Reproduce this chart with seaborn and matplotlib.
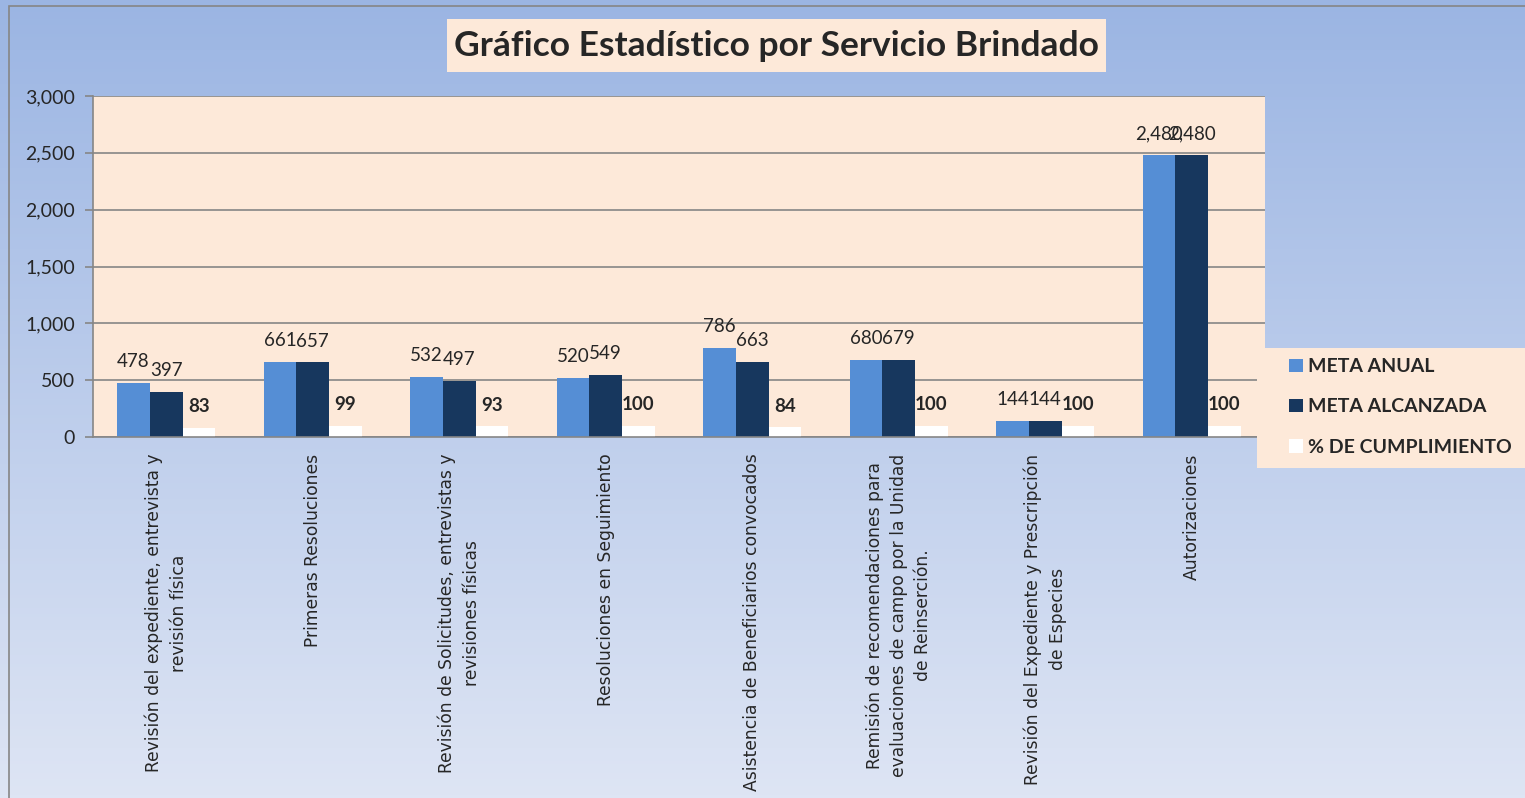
import numpy as np
import pandas as pd
import matplotlib
matplotlib.use("Agg")
import matplotlib.pyplot as plt
from matplotlib.patches import Rectangle
import seaborn as sns

CATEGORIAS = [
    "Revisión del expediente, entrevista y\nrevisión física",
    "Primeras Resoluciones",
    "Revisión de Solicitudes, entrevistas y\nrevisiones físicas",
    "Resoluciones en Seguimiento",
    "Asistencia de Beneficiarios convocados",
    "Remisión de recomendaciones para\nevaluaciones de campo por la Unidad\nde Reinserción.",
    "Revisión del Expediente y Prescripción\nde Especies",
    "Autorizaciones",
]
SERIES = ["META ANUAL", "META ALCANZADA", "% DE CUMPLIMIENTO"]
META_ANUAL = [478, 661, 532, 520, 786, 680, 144, 2480]
META_ALCANZADA = [397, 657, 497, 549, 663, 679, 144, 2480]
CUMPLIMIENTO = [83, 99, 93, 100, 84, 100, 100, 100]
Y_TICKS = [0, 500, 1000, 1500, 2000, 2500, 3000]
TITULO = "Gráfico Estadístico por Servicio Brindado"

COLORES = ["#558ED5", "#17375E", "#FFFFFF"]
PEACH = "#FDE9D9"
GRIS = "#868686"

# tabla larga para seaborn
df = pd.DataFrame({
    "categoria": CATEGORIAS * 3,
    "serie": [s for s in SERIES for _ in CATEGORIAS],
    "valor": META_ANUAL + META_ALCANZADA + CUMPLIMIENTO,
})

sns.set_style("white")
plt.rcParams["font.family"] = ["Lato", "DejaVu Sans"]

W, H = 1525, 798
fig = plt.figure(figsize=(W / 100, H / 100), dpi=100)

def caja(x0, y0, x1, y1, **kw):
    # rectangulo en pixeles de la figura (origen arriba a la izquierda)
    r = Rectangle((x0 / W, 1 - y1 / H), (x1 - x0) / W, (y1 - y0) / H,
                  transform=fig.transFigure, **kw)
    fig.patches.append(r)
    return r

# fondo degradado azul
bg = fig.add_axes([0, 0, 1, 1], zorder=-10)
top = np.array([155, 181, 227]) / 255
bot = np.array([222, 229, 244]) / 255
t = np.linspace(0, 1, 256)[:, None]
grad = (top * (1 - t) + bot * t)[:, None, :]
bg.imshow(grad, aspect="auto", extent=[0, 1, 0, 1])
bg.set_axis_off()
caja(9, 6, W + 5, H + 5, fill=False, edgecolor=GRIS, linewidth=1.2, zorder=5)
caja(447, 19, 1106, 72, facecolor=PEACH, edgecolor="none", zorder=1)
caja(1257, 348, W, 468, facecolor=PEACH, edgecolor="none", zorder=1)

ax = fig.add_axes([93 / W, 1 - 437 / H, (1265 - 93) / W, (437 - 96) / H])
ax.set_facecolor(PEACH)
sns.barplot(data=df, x="categoria", y="valor", hue="serie", palette=COLORES,
            width=0.67, saturation=1, ax=ax, edgecolor="none", legend=True)

ax.set_ylim(0, 3000)
ax.set_xlim(-0.5, len(CATEGORIAS) - 0.5)
ax.set_yticks(Y_TICKS)
ax.set_yticklabels([f"{v:,}" for v in Y_TICKS], fontsize=14)
ax.yaxis.grid(True, color=GRIS, linewidth=1.2)
ax.set_axisbelow(True)
ax.set_xlabel("")
ax.set_ylabel("")
for s in ["top", "right"]:
    ax.spines[s].set_visible(False)
for s in ["left", "bottom"]:
    ax.spines[s].set_color(GRIS)
    ax.spines[s].set_linewidth(1.2)

ax.set_xticks(np.arange(len(CATEGORIAS)))
ax.set_xticklabels(CATEGORIAS, rotation=90, fontsize=12.3, family="DejaVu Sans",
                   multialignment="center", va="top", ha="center", linespacing=1.45)
ax.set_xticks(np.arange(len(CATEGORIAS) + 1) - 0.5, minor=True)
ax.tick_params(axis="x", which="major", length=0, pad=12)
ax.tick_params(axis="x", which="minor", length=6, color=GRIS, width=1.2)
ax.tick_params(axis="y", length=6, color=GRIS, width=1.2, left=True, pad=7)

# etiquetas de valores
ax.bar_label(ax.containers[0], labels=[f"{v:,}" for v in META_ANUAL],
             fontsize=13.5, padding=9)
ax.bar_label(ax.containers[1], labels=[f"{v:,}" for v in META_ALCANZADA],
             fontsize=13.5, padding=9)
ax.bar_label(ax.containers[2], labels=[str(v) for v in CUMPLIMIENTO],
             fontsize=13.5, fontweight="bold", padding=9)

# leyenda a nivel de figura, encima de la caja color durazno
handles, labels = ax.get_legend_handles_labels()
ax.get_legend().remove()
fig.legend(handles, labels, loc="center left",
           bbox_to_anchor=(1289 / W, 1 - 407 / H), bbox_transform=fig.transFigure,
           frameon=False, prop={"weight": "bold", "size": 14}, handlelength=0.7,
           handleheight=0.7, handletextpad=0.3, labelspacing=1.2,
           borderpad=0, borderaxespad=0)

fig.text(776 / W, 1 - 46 / H, TITULO, ha="center", va="center",
         fontsize=25.5, fontweight="bold", zorder=2)

fig.savefig("out.png", dpi=100)
